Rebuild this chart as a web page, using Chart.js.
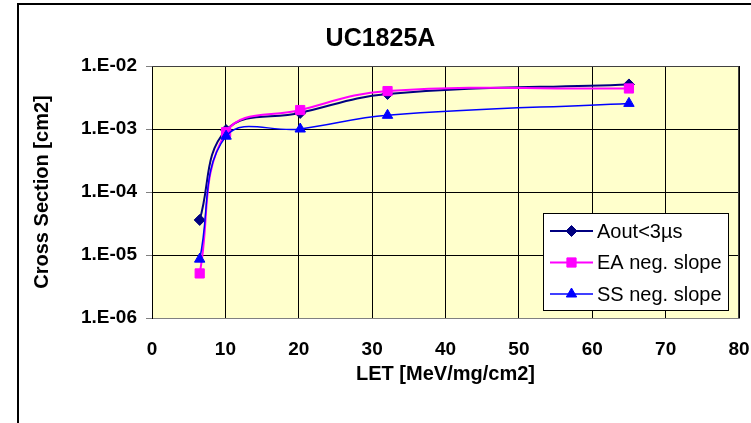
<!DOCTYPE html>
<html>
<head>
<meta charset="utf-8">
<title>UC1825A</title>
<script src="https://cdn.jsdelivr.net/npm/chart.js@4.4.0/dist/chart.umd.min.js"></script>
<style>
  html, body { margin: 0; padding: 0; background: #fff; }
  #wrap { position: relative; width: 751px; height: 423px; }
</style>
</head>
<body>
<div id="wrap"><canvas id="chart"></canvas></div>
<script>
// LET [MeV/mg/cm2] of each run
const letValues = [6.5, 10.1, 20.2, 32.1, 65];
// cross section [cm2] per event type
const aoutValues = [3.6e-5, 9.6e-4, 1.8e-3, 3.6e-3, 5.1e-3];
const eaValues = [5.1e-6, 8.9e-4, 2.0e-3, 4.0e-3, 4.4e-3];
const ssValues = [8.6e-6, 7.7e-4, 1.0e-3, 1.65e-3, 2.55e-3];

const seriesLabels = ['Aout<3µs', 'EA neg. slope', 'SS neg. slope'];
const xTicks = [0, 10, 20, 30, 40, 50, 60, 70, 80];
const yTicks = [1e-6, 1e-5, 1e-4, 1e-3, 1e-2];
const yTickLabels = ['1.E-06', '1.E-05', '1.E-04', '1.E-03', '1.E-02'];

const FONT = "'Liberation Sans', Arial, sans-serif";

function points(values) {
  return letValues.map((x, i) => ({ x, y: values[i] }));
}

// fond jaune de la zone de tracé + cadre extérieur, légende dessinée à la main
const framePlugin = {
  id: 'frame',
  beforeDraw(chart) {
    const { ctx, chartArea: a } = chart;
    ctx.save();
    ctx.fillStyle = '#FFFFCC';
    ctx.fillRect(a.left, a.top, a.right - a.left, a.bottom - a.top);
    ctx.strokeStyle = '#000';
    ctx.lineWidth = 2;
    ctx.strokeRect(18, 4, 800, 500);
    ctx.restore();
  },
  afterDraw(chart) {
    const { ctx, chartArea: a } = chart;
    ctx.save();
    // bords haut/droite du cadre de tracé
    ctx.strokeStyle = '#404040';
    ctx.lineWidth = 1;
    ctx.beginPath();
    ctx.moveTo(a.left, a.top + 0.5);
    ctx.lineTo(a.right - 0.5, a.top + 0.5);
    ctx.lineTo(a.right - 0.5, a.bottom);
    ctx.stroke();

    // légende
    const box = { x: 543.5, y: 213.5, w: 185, h: 97 };
    ctx.fillStyle = '#fff';
    ctx.fillRect(box.x, box.y, box.w, box.h);
    ctx.strokeStyle = '#000';
    ctx.strokeRect(box.x, box.y, box.w, box.h);
    ctx.font = '20px ' + FONT;
    ctx.textBaseline = 'middle';
    chart.data.datasets.forEach((ds, i) => {
      const y = box.y + 17.5 + i * 31.5;
      ctx.strokeStyle = ds.borderColor;
      ctx.lineWidth = ds.borderWidth;
      ctx.beginPath();
      ctx.moveTo(550, y);
      ctx.lineTo(593, y);
      ctx.stroke();
      ctx.fillStyle = ds.pointBackgroundColor;
      ctx.strokeStyle = ds.pointBorderColor;
      ctx.lineWidth = 1;
      Chart.helpers.drawPoint(ctx, {
        pointStyle: ds.pointStyle, radius: ds.pointRadius, rotation: 0, borderWidth: 1
      }, 571.5, y);
      ctx.fillStyle = '#000';
      ctx.fillText(ds.label, 597, y + 1);
    });
    ctx.restore();
  }
};

function series(label, values, color, style, radius, width, order) {
  return {
    label,
    data: points(values),
    borderColor: color,
    backgroundColor: color,
    pointBackgroundColor: color,
    pointBorderColor: color,
    pointStyle: style,
    pointRadius: radius,
    pointBorderWidth: 1,
    borderWidth: width,
    tension: 0.4,
    order
  };
}

new Chart(document.getElementById('chart'), {
  type: 'line',
  data: {
    datasets: [
      series(seriesLabels[0], aoutValues, '#000080', 'rectRot', 5.5, 2, 3),
      series(seriesLabels[1], eaValues, '#FF00FF', 'rect', 6.5, 2, 2),
      series(seriesLabels[2], ssValues, '#0000FF', 'triangle', 6, 1.5, 1)
    ]
  },
  options: {
    responsive: true,
    maintainAspectRatio: false,
    animation: false,
    layout: { padding: { top: 6, left: 22, right: 12, bottom: 0 } },
    plugins: {
      legend: { display: false },
      tooltip: { enabled: false },
      title: {
        display: true,
        text: 'UC1825A',
        color: '#000',
        font: { family: FONT, size: 25, weight: 'bold' },
        padding: { top: 18, bottom: 12 }
      }
    },
    scales: {
      x: {
        type: 'linear',
        min: 0,
        max: 80,
        afterBuildTicks: (s) => { s.ticks = xTicks.map((v) => ({ value: v })); },
        afterFit: (s) => { s.height = 105; s.paddingLeft = 0; s.paddingRight = 0; },
        ticks: { color: '#000', padding: 20, maxRotation: 0, font: { family: FONT, size: 19, weight: 'bold' } },
        grid: { color: '#000', drawTicks: false },
        border: { color: '#808080' },
        title: {
          display: true,
          text: 'LET [MeV/mg/cm2]',
          color: '#000',
          font: { family: FONT, size: 20, weight: 'bold' },
          padding: { top: 0, bottom: 37 }
        }
      },
      y: {
        type: 'logarithmic',
        min: 1e-6,
        max: 1e-2,
        afterBuildTicks: (s) => { s.ticks = yTicks.map((v) => ({ value: v })); },
        afterFit: (s) => { s.width = 130; s.paddingTop = 0; s.paddingBottom = 0; },
        ticks: {
          color: '#000',
          padding: 9,
          font: { family: FONT, size: 19, weight: 'bold' },
          callback: (v, i) => yTickLabels[i]
        },
        grid: { color: '#000', tickColor: '#808080', tickLength: 6 },
        border: { color: '#000' },
        title: {
          display: true,
          text: 'Cross Section [cm2]',
          color: '#000',
          font: { family: FONT, size: 20, weight: 'bold' },
          padding: { top: 8, bottom: 0 }
        }
      }
    }
  },
  plugins: [framePlugin]
});
</script>
</body>
</html>
